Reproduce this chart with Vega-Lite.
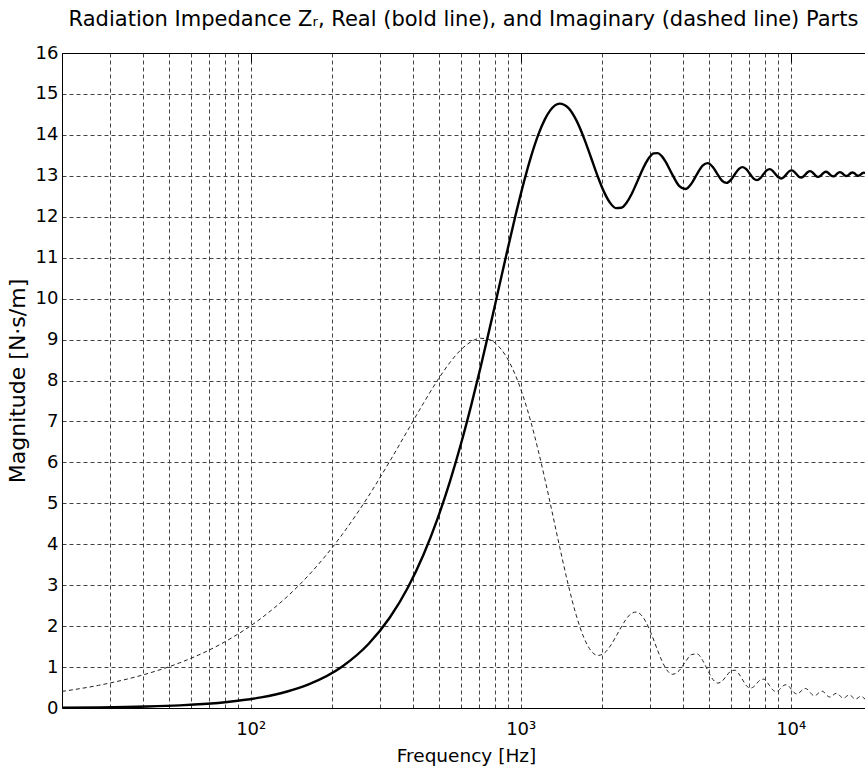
{
  "$schema": "https://vega.github.io/schema/vega-lite/v6.json",
  "width": 803,
  "height": 655,
  "autosize": {"type": "none"},
  "padding": {"left": 62, "top": 53, "right": 0, "bottom": 64},
  "background": "white",
  "config": {"view": {"stroke": null}, "font": "DejaVu Sans"},
  "title": {
    "text": "Radiation Impedance Zᵣ, Real (bold line), and Imaginary (dashed line) Parts",
    "fontSize": 21, "fontWeight": "normal", "font": "DejaVu Sans", "color": "black",
    "anchor": "middle", "baseline": "alphabetic", "offset": -3
  },
  "data": {"values": [
    {"f": 20, "R": 0.0088, "X": 0.4054},
    {"f": 27.3, "R": 0.0163, "X": 0.5531},
    {"f": 40.9, "R": 0.0366, "X": 0.8289},
    {"f": 54.6, "R": 0.0651, "X": 1.1039},
    {"f": 81.9, "R": 0.1462, "X": 1.6504},
    {"f": 109.2, "R": 0.2591, "X": 2.1902},
    {"f": 136.5, "R": 0.4033, "X": 2.7214},
    {"f": 163.8, "R": 0.5781, "X": 3.2417},
    {"f": 218.4, "R": 1.0158, "X": 4.2420},
    {"f": 273.0, "R": 1.5635, "X": 5.1758},
    {"f": 327.5, "R": 2.2105, "X": 6.0293},
    {"f": 382.1, "R": 2.9443, "X": 6.7907},
    {"f": 436.7, "R": 3.7507, "X": 7.4499},
    {"f": 491.3, "R": 4.6147, "X": 7.9994},
    {"f": 545.9, "R": 5.5195, "X": 8.4338},
    {"f": 600.5, "R": 6.4493, "X": 8.7505},
    {"f": 655.1, "R": 7.3873, "X": 8.9490},
    {"f": 709.7, "R": 8.3173, "X": 9.0314},
    {"f": 764.3, "R": 9.2239, "X": 9.0023},
    {"f": 818.9, "R": 10.0925, "X": 8.8682},
    {"f": 887.1, "R": 11.1051, "X": 8.5661},
    {"f": 955.3, "R": 12.0163, "X": 8.1338},
    {"f": 1023.6, "R": 12.8089, "X": 7.5947},
    {"f": 1091.8, "R": 13.4706, "X": 6.9746},
    {"f": 1160.0, "R": 13.9946, "X": 6.3002},
    {"f": 1228.3, "R": 14.3791, "X": 5.5984},
    {"f": 1286.2, "R": 14.5988, "X": 5.0001},
    {"f": 1393.4, "R": 14.7641, "X": 3.9389},
    {"f": 1500.6, "R": 14.6602, "X": 3.0032},
    {"f": 1607.8, "R": 14.3539, "X": 2.2505},
    {"f": 1715.0, "R": 13.9215, "X": 1.7129},
    {"f": 1822.2, "R": 13.4406, "X": 1.3965},
    {"f": 1929.4, "R": 12.9816, "X": 1.2837},
    {"f": 2036.6, "R": 12.6013, "X": 1.3377},
    {"f": 2143.7, "R": 12.3385, "X": 1.5088},
    {"f": 2250.9, "R": 12.2116, "X": 1.7417},
    {"f": 2358.1, "R": 12.2193, "X": 1.9820},
    {"f": 2465.3, "R": 12.3429, "X": 2.1831},
    {"f": 2572.5, "R": 12.5510, "X": 2.3102},
    {"f": 2679.6, "R": 12.8046, "X": 2.3438},
    {"f": 2786.8, "R": 13.0634, "X": 2.2798},
    {"f": 2894.0, "R": 13.2905, "X": 2.1288},
    {"f": 3001.2, "R": 13.4577, "X": 1.9124},
    {"f": 3108.4, "R": 13.5475, "X": 1.6599},
    {"f": 3215.6, "R": 13.5550, "X": 1.4029},
    {"f": 3322.8, "R": 13.4872, "X": 1.1713},
    {"f": 3430.0, "R": 13.3607, "X": 0.9891},
    {"f": 3644.4, "R": 13.0280, "X": 0.8236},
    {"f": 3858.7, "R": 12.7557, "X": 0.9106},
    {"f": 4073.1, "R": 12.6788, "X": 1.1266},
    {"f": 4287.5, "R": 12.8092, "X": 1.3033},
    {"f": 4501.9, "R": 13.0471, "X": 1.3211},
    {"f": 4716.2, "R": 13.2494, "X": 1.1646},
    {"f": 4930.6, "R": 13.3111, "X": 0.9163},
    {"f": 5145.0, "R": 13.2163, "X": 0.6998},
    {"f": 5359.3, "R": 13.0354, "X": 0.6085},
    {"f": 5573.7, "R": 12.8776, "X": 0.6584},
    {"f": 5788.1, "R": 12.8269, "X": 0.7884},
    {"f": 6002.5, "R": 12.8997, "X": 0.9017},
    {"f": 6216.9, "R": 13.0432, "X": 0.9218},
    {"f": 6431.2, "R": 13.1707, "X": 0.8326},
    {"f": 6645.6, "R": 13.2132, "X": 0.6804},
    {"f": 6860.0, "R": 13.1551, "X": 0.5431},
    {"f": 7074.4, "R": 13.0377, "X": 0.4838},
    {"f": 7288.7, "R": 12.9319, "X": 0.5175},
    {"f": 7503.1, "R": 12.8956, "X": 0.6068},
    {"f": 7717.5, "R": 12.9434, "X": 0.6871},
    {"f": 7931.9, "R": 13.0417, "X": 0.7049},
    {"f": 8146.3, "R": 13.1314, "X": 0.6461},
    {"f": 8360.6, "R": 13.1628, "X": 0.5411},
    {"f": 8575.0, "R": 13.1226, "X": 0.4445},
    {"f": 8789.4, "R": 13.0387, "X": 0.4022},
    {"f": 9003.8, "R": 12.9614, "X": 0.4270},
    {"f": 9218.2, "R": 12.9340, "X": 0.4932},
    {"f": 9432.5, "R": 12.9684, "X": 0.5541},
    {"f": 9646.9, "R": 13.0411, "X": 0.5692},
    {"f": 9861.3, "R": 13.1085, "X": 0.5270},
    {"f": 10075.6, "R": 13.1328, "X": 0.4492},
    {"f": 10290.0, "R": 13.1029, "X": 0.3765},
    {"f": 10504.4, "R": 13.0392, "X": 0.3445},
    {"f": 10718.7, "R": 12.9796, "X": 0.3638},
    {"f": 10933.1, "R": 12.9579, "X": 0.4155},
    {"f": 11147.5, "R": 12.9841, "X": 0.4637},
    {"f": 11361.9, "R": 13.0407, "X": 0.4766},
    {"f": 11576.2, "R": 13.0938, "X": 0.4445},
    {"f": 11790.6, "R": 13.1133, "X": 0.3839},
    {"f": 12005.0, "R": 13.0900, "X": 0.3268},
    {"f": 12219.3, "R": 13.0394, "X": 0.3016},
    {"f": 12433.7, "R": 12.9918, "X": 0.3172},
    {"f": 12648.1, "R": 12.9740, "X": 0.3590},
    {"f": 12862.5, "R": 12.9949, "X": 0.3983},
    {"f": 13076.8, "R": 13.0405, "X": 0.4095},
    {"f": 13291.2, "R": 13.0836, "X": 0.3841},
    {"f": 13505.6, "R": 13.0998, "X": 0.3352},
    {"f": 13719.9, "R": 13.0810, "X": 0.2888},
    {"f": 13934.3, "R": 13.0396, "X": 0.2683},
    {"f": 14148.7, "R": 13.0003, "X": 0.2813},
    {"f": 14363.1, "R": 12.9855, "X": 0.3160},
    {"f": 14577.4, "R": 13.0026, "X": 0.3490},
    {"f": 14791.8, "R": 13.0404, "X": 0.3586},
    {"f": 15006.2, "R": 13.0763, "X": 0.3379},
    {"f": 15220.6, "R": 13.0900, "X": 0.2975},
    {"f": 15434.9, "R": 13.0744, "X": 0.2589},
    {"f": 15649.3, "R": 13.0397, "X": 0.2417},
    {"f": 15863.7, "R": 13.0066, "X": 0.2528},
    {"f": 16078.1, "R": 12.9940, "X": 0.2822},
    {"f": 16292.4, "R": 13.0083, "X": 0.3103},
    {"f": 16506.8, "R": 13.0403, "X": 0.3189},
    {"f": 16721.2, "R": 13.0709, "X": 0.3016},
    {"f": 16935.6, "R": 13.0826, "X": 0.2674},
    {"f": 17149.9, "R": 13.0694, "X": 0.2346},
    {"f": 17364.3, "R": 13.0398, "X": 0.2200},
    {"f": 17578.7, "R": 13.0114, "X": 0.2296},
    {"f": 17793.1, "R": 13.0005, "X": 0.2550},
    {"f": 18007.4, "R": 13.0127, "X": 0.2793},
    {"f": 18221.8, "R": 13.0402, "X": 0.2869},
    {"f": 18436.2, "R": 13.0667, "X": 0.2722},
    {"f": 18650.5, "R": 13.0768, "X": 0.2428},
    {"f": 18864.9, "R": 13.0655, "X": 0.2145}
  ]},
  "layer": [
    {
      "mark": {"type": "line", "stroke": "#222222", "strokeWidth": 1, "strokeDash": [4, 3], "clip": true, "interpolate": "monotone"},
      "encoding": {
        "x": {
          "field": "f", "type": "quantitative",
          "scale": {"type": "log", "domain": [20, 18840], "nice": false, "zero": false},
          "axis": {
            "orient": "bottom",
            "values": [20, 30, 40, 50, 60, 70, 80, 90, 100, 200, 300, 400, 500, 600, 700, 800, 900, 1000, 2000, 3000, 4000, 5000, 6000, 7000, 8000, 9000, 10000],
            "labelExpr": "datum.value == 100 ? '10²' : datum.value == 1000 ? '10³' : datum.value == 10000 ? '10⁴' : ''",
            "grid": true, "gridColor": "#444444", "gridDash": [4, 3], "gridWidth": 1,
            "ticks": false,
            "domainColor": "black", "domainWidth": 1,
            "labelFont": "DejaVu Sans", "labelFontSize": 18, "labelColor": "black", "labelPadding": 12,
            "labelOverlap": false, "labelFlush": false, "labelBound": false,
            "title": "Frequency [Hz]", "titleFont": "DejaVu Sans", "titleFontSize": 18.5, "titleFontWeight": "normal",
            "titleColor": "black", "titlePadding": 8, "titleX": 404
          }
        },
        "y": {
          "field": "X", "type": "quantitative",
          "scale": {"domain": [0, 16], "nice": false, "zero": false},
          "axis": {
            "values": [0, 1, 2, 3, 4, 5, 6, 7, 8, 9, 10, 11, 12, 13, 14, 15, 16],
            "grid": true, "gridColor": "#444444", "gridDash": [4, 3], "gridWidth": 1,
            "ticks": false,
            "domainColor": "black", "domainWidth": 1,
            "labelFont": "DejaVu Sans", "labelFontSize": 18, "labelColor": "black", "labelPadding": 4,
            "labelOverlap": false, "labelFlush": false, "labelBound": false,
            "title": "Magnitude [N·s/m]", "titleFont": "DejaVu Sans", "titleFontSize": 22, "titleFontWeight": "normal",
            "titleColor": "black", "titlePadding": 6
          }
        }
      }
    },
    {
      "mark": {"type": "line", "stroke": "black", "strokeWidth": 2.4, "clip": true, "interpolate": "monotone"},
      "encoding": {
        "x": {
          "field": "f", "type": "quantitative",
          "axis": {
            "orient": "top", "values": [100, 1000, 10000],
            "grid": false, "labels": false, "ticks": true, "tickSize": -9, "tickColor": "black",
            "domainColor": "black", "domainWidth": 1, "title": null
          }
        },
        "y": {"field": "R", "type": "quantitative"}
      }
    }
  ],
  "resolve": {"axis": {"x": "independent"}}
}
